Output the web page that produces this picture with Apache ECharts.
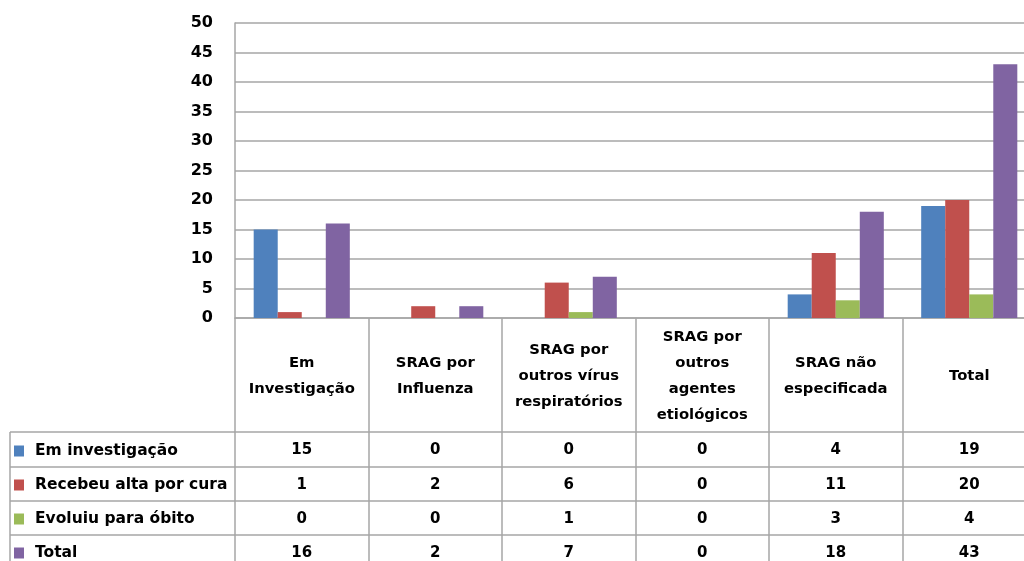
<!DOCTYPE html>
<html><head><meta charset="utf-8">
<script src="https://cdn.jsdelivr.net/npm/echarts@6/dist/echarts.min.js"></script>
<style>html,body{margin:0;padding:0;background:#fff}#c{width:1024px;height:561px}</style>
</head><body><div id="c"></div>
<script>
const categories = ['Em\nInvestigação','SRAG por\nInfluenza','SRAG por\noutros vírus\nrespiratórios','SRAG por\noutros\nagentes\netiológicos','SRAG não\nespecificada','Total'];
const seriesNames = ['Em investigação','Recebeu alta por cura','Evoluiu para óbito','Total'];
const emInvestigacao = [15,0,0,0,4,19];
const recebeuAlta = [1,2,6,0,11,20];
const evoluiuObito = [0,0,1,0,3,4];
const total = [16,2,7,0,18,43];
const yTicks = [0,5,10,15,20,25,30,35,40,45,50];
const colors = ['#4F81BD','#C0504D','#9BBB59','#8064A2'];
const allData = [emInvestigacao, recebeuAlta, evoluiuObito, total];

const FONT = 'DejaVu Sans';
const GRAY = '#a6a6a6';
const chart = echarts.init(document.getElementById('c'));

const rowOffsets = [114,149,183,217];
const rowHeights = [35,34,34,34];
const legendTops = [443,477,511,545];

const xAxes = [{
  type:'category', data:categories, gridIndex:0, position:'bottom',
  axisLine:{show:true,lineStyle:{color:GRAY,width:1.5}},
  axisTick:{show:true,length:114,lineStyle:{color:GRAY,width:1.5}},
  axisLabel:{interval:0,margin:58,verticalAlign:'middle',fontFamily:FONT,fontWeight:'bold',fontSize:14.8,lineHeight:26,color:'#000',align:'center'}
}];
allData.forEach((arr,k)=>{
  xAxes.push({
    type:'category', data:categories, gridIndex:0, position:'bottom', offset:rowOffsets[k],
    axisLine:{show:true,lineStyle:{color:GRAY,width:1.5}},
    axisTick:{show:true,length:rowHeights[k],lineStyle:{color:GRAY,width:1.5}},
    axisLabel:{interval:0,margin:18,verticalAlign:'middle',fontFamily:FONT,fontWeight:'bold',fontSize:15,color:'#000',
      formatter:(v,i)=>String(arr[i])}
  });
});

chart.setOption({
  animation:false,
  color:colors,
  grid:{left:235,top:23,width:801,height:295,containLabel:false,outerBoundsMode:'none'},
  legend: seriesNames.map((n,k)=>({
    orient:'vertical', left:14, top:legendTops[k], itemWidth:10, itemHeight:11,
    icon:'rect', selectedMode:false, padding:0,
    textStyle:{fontFamily:FONT,fontWeight:'bold',fontSize:15.5,color:'#000',padding:[0,0,0,6]},
    data:[n]
  })),
  xAxis:xAxes,
  yAxis:{
    type:'value', min:yTicks[0], max:yTicks[yTicks.length-1], interval:yTicks[1]-yTicks[0],
    axisLine:{show:true,lineStyle:{color:GRAY,width:1.5}},
    axisTick:{show:false},
    splitLine:{show:true,lineStyle:{color:GRAY,width:1.5}},
    axisLabel:{margin:22,fontFamily:FONT,fontWeight:'bold',fontSize:16,color:'#000'}
  },
  series: allData.map((arr,k)=>({
    name:seriesNames[k], type:'bar', data:arr, barGap:0, barCategoryGap:'28%',
    itemStyle:{color:colors[k]}
  })),
  graphic:[
    {type:'line',shape:{x1:10,y1:432,x2:10,y2:561},style:{stroke:GRAY,lineWidth:1.5}},
    {type:'line',shape:{x1:10,y1:432,x2:235,y2:432},style:{stroke:GRAY,lineWidth:1.5}},
    {type:'line',shape:{x1:10,y1:467,x2:235,y2:467},style:{stroke:GRAY,lineWidth:1.5}},
    {type:'line',shape:{x1:10,y1:501,x2:235,y2:501},style:{stroke:GRAY,lineWidth:1.5}},
    {type:'line',shape:{x1:10,y1:535,x2:235,y2:535},style:{stroke:GRAY,lineWidth:1.5}}
  ]
});
</script></body></html>
